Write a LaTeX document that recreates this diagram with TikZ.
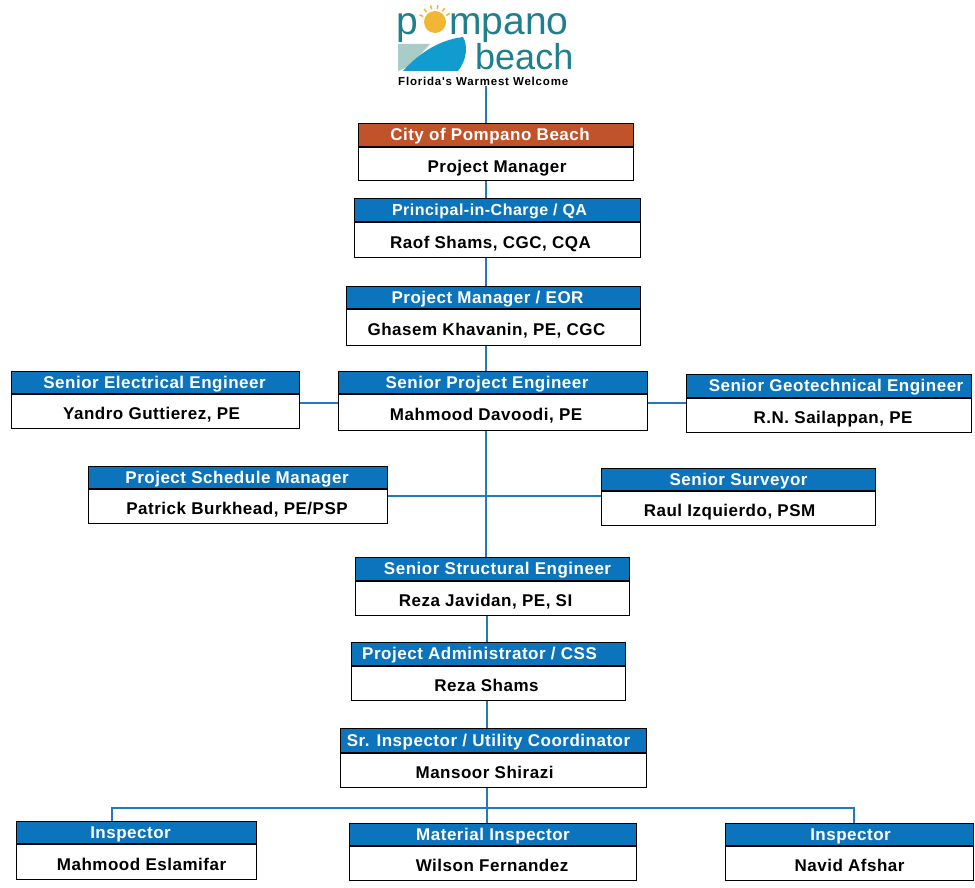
\documentclass[tikz,border=0pt]{standalone}
\usepackage{fontspec}
\setmainfont{Liberation Sans}
\newfontfamily\boxfont[LetterSpace=3]{Liberation Sans}
\newfontfamily\tagfont[LetterSpace=7]{Liberation Sans}
\usetikzlibrary{positioning, calc}
\definecolor{headblue}{HTML}{0B74BC}
\definecolor{headred}{HTML}{C1532B}
\definecolor{linkblue}{HTML}{2478BE}
\definecolor{logoteal}{HTML}{1F7F8C}
\definecolor{logoblue}{HTML}{119CCF}
\definecolor{logogrey}{HTML}{A9CCC9}
\definecolor{logosun}{HTML}{F2B632}
\tikzset{
	head/.style={rectangle, draw=black, line width=1.1pt, fill=headblue, text=white, font=\boxfont\fontsize{17}{20}\selectfont\bfseries, text height=14pt, text depth=3pt, anchor=north west, inner sep=0pt},
	body/.style={rectangle, draw=black, line width=1.1pt, fill=white, text=black, font=\boxfont\fontsize{17}{20}\selectfont\bfseries, text height=19pt, text depth=3pt, anchor=north west, inner sep=0pt},
	link/.style={draw=linkblue, line width=1.3pt},
	tshift/.style={execute at begin node={\hspace*{#1pt}\hspace*{#1pt}}},
	logotext/.style={text=logoteal, inner sep=0pt, anchor=base west}
}
\begin{document}
\begin{tikzpicture}[x=1pt, y=-1pt]
		\useasboundingbox (0,0) rectangle (975,888);
		
		% --- Logo ---
		\fill[logogrey] (398,44) -- (430,44) -- (410,66) -- (398,71) -- cycle;
		\fill[logoblue] (403,71) .. controls (420,52) and (440,40) .. (463,37) .. controls (468,45) and (467,60) .. (458,71) -- cycle;
		\fill[logosun] (435,22) circle (11);
		\foreach \ang in {205,230,...,335}
			\draw[logosun, line width=1.5pt] ($(435,22)+(\ang:13)$) -- ($(435,22)+(\ang:17)$);
		\node[logotext, font=\fontsize{39}{40}\selectfont] (logo_p) at (396,35) {p};
		\node[logotext, font=\fontsize{39}{40}\selectfont] (logo_pompano) at (449,35) {mpano};
		\node[logotext, font=\fontsize{36}{40}\selectfont] (logo_beach) at (475,70) {beach};
		\node[logotext, text=black, font=\tagfont\fontsize{11.5}{13}\selectfont\bfseries] (logo_tag) at (398,86) {Florida's Warmest Welcome};
		
		% --- Top Column ---
		\node[head, fill=headred, minimum width=275pt, minimum height=23pt, tshift=-6] (city_head) at (358,123) {City of Pompano Beach};
		\node[body, minimum width=275pt, minimum height=33pt, tshift=1] (city) at (city_head.south west) {Project Manager};
		\node[head, font=\boxfont\fontsize{16}{20}\selectfont\bfseries, minimum width=286pt, minimum height=23pt, tshift=-8] (principal_head) at (354,198) {Principal-in-Charge / QA};
		\node[body, minimum width=286pt, minimum height=35pt, tshift=-7] (principal) at (principal_head.south west) {Raof Shams, CGC, CQA};
		\node[head, minimum width=294pt, minimum height=22pt, tshift=-6] (eor_head) at (346,286) {Project Manager / EOR};
		\node[body, minimum width=294pt, minimum height=36pt, tshift=-7] (eor) at (eor_head.south west) {Ghasem Khavanin, PE, CGC};
		
		% --- Senior Row ---
		\node[head, minimum width=288pt, minimum height=22pt, tshift=-1] (electrical_head) at (11,371) {Senior Electrical Engineer};
		\node[body, minimum width=288pt, minimum height=34pt, tshift=-4] (electrical) at (electrical_head.south west) {Yandro Guttierez, PE};
		\node[head, minimum width=309pt, minimum height=22pt, tshift=-6] (project_head) at (338,371) {Senior Project Engineer};
		\node[body, minimum width=309pt, minimum height=36pt, tshift=-7] (project) at (project_head.south west) {Mahmood Davoodi, PE};
		\node[head, minimum width=285pt, minimum height=23pt, tshift=7] (geo_head) at (686,374) {Senior Geotechnical Engineer};
		\node[body, minimum width=285pt, minimum height=34pt, tshift=4] (geo) at (geo_head.south west) {R.N. Sailappan, PE};
		
		% --- Schedule and Survey ---
		\node[head, minimum width=299pt, minimum height=22pt, tshift=-1] (schedule_head) at (88,466) {Project Schedule Manager};
		\node[body, minimum width=299pt, minimum height=34pt, tshift=-1] (schedule) at (schedule_head.south west) {Patrick Burkhead, PE/PSP};
		\node[head, minimum width=274pt, minimum height=22pt] (survey_head) at (601,468) {Senior Surveyor};
		\node[body, minimum width=274pt, minimum height=34pt, tshift=-9] (survey) at (survey_head.south west) {Raul Izquierdo, PSM};
		
		% --- Lower Column ---
		\node[head, minimum width=274pt, minimum height=23pt, tshift=5] (structural_head) at (355,557) {Senior Structural Engineer};
		\node[body, minimum width=274pt, minimum height=34pt, tshift=-7] (structural) at (structural_head.south west) {Reza Javidan, PE, SI};
		\node[head, minimum width=274pt, minimum height=23pt, tshift=-9] (admin_head) at (351,642) {Project Administrator / CSS};
		\node[body, minimum width=274pt, minimum height=34pt, tshift=-2] (admin) at (admin_head.south west) {Reza Shams};
		\node[head, minimum width=306pt, minimum height=24pt, tshift=-5] (inspector_head) at (340,728) {Sr. Inspector / Utility Coordinator};
		\node[body, minimum width=306pt, minimum height=34pt, tshift=-9] (inspector) at (inspector_head.south west) {Mansoor Shirazi};
		
		% --- Inspectors ---
		\node[head, minimum width=240pt, minimum height=22pt, tshift=-6] (left_head) at (16,821) {Inspector};
		\node[body, minimum width=240pt, minimum height=35pt, tshift=5] (left) at (left_head.south west) {Mahmood Eslamifar};
		\node[head, minimum width=287pt, minimum height=22pt] (material_head) at (349,823) {Material Inspector};
		\node[body, minimum width=287pt, minimum height=34pt, tshift=-1] (material) at (material_head.south west) {Wilson Fernandez};
		\node[head, minimum width=248pt, minimum height=22pt, tshift=1] (right_head) at (725,823) {Inspector};
		\node[body, minimum width=248pt, minimum height=34pt] (right) at (right_head.south west) {Navid Afshar};
		
		% --- Spine and Branch Points ---
		\coordinate (spine) at (486,0);
		\coordinate (spine_low) at (487,0);
		\coordinate (branch) at (486,496);
		\coordinate (bus) at (487,808);
		
		% --- Connections ---
		\draw[link] (logo_tag.base -| spine) -- (city_head.north -| spine);
		\draw[link] (city.south -| spine) -- (principal_head.north -| spine);
		\draw[link] (principal.south -| spine) -- (eor_head.north -| spine);
		\draw[link] (eor.south -| spine) -- (project_head.north -| spine);
		\draw[link] (project.south -| spine) -- (structural_head.north -| spine);
		\draw[link] (electrical.east |- 0,403) -- (project.west |- 0,403);
		\draw[link] (project.east |- 0,403) -- (geo.west |- 0,403);
		\draw[link] (schedule.east |- branch) -- (branch) -- (survey.west |- branch);
		\draw[link] (structural.south -| spine_low) -- (admin_head.north -| spine_low);
		\draw[link] (admin.south -| spine_low) -- (inspector_head.north -| spine_low);
		\draw[link] (inspector.south -| spine_low) -- (material_head.north -| spine_low);
		\draw[link] (left_head.north -| 112,0) |- (bus);
		\draw[link] (right_head.north -| 854,0) |- (bus);

	\end{tikzpicture}
\end{document}
